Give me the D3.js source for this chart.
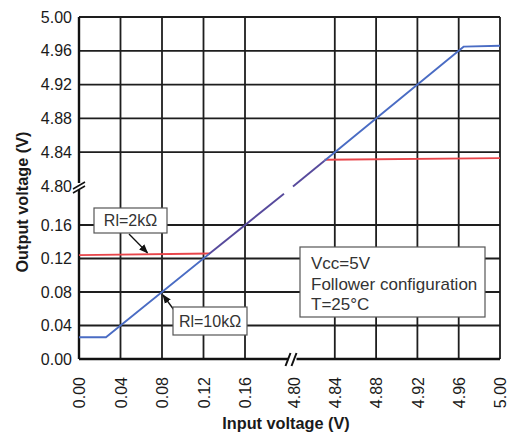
<!DOCTYPE html>
<html><head><meta charset="utf-8">
<script src="https://cdn.jsdelivr.net/npm/d3@7"></script>
<style>body{margin:0;background:#fff}svg{display:block;font-family:"Liberation Sans",Arial,sans-serif}</style>
</head><body><svg id="c" width="516" height="439"></svg>
<script>
// Broken axes: 0.00–0.16 and 4.80–5.00
const xDomain=[0,0.16,4.80,5.00];
const yDomain=[0,0.16,4.80,5.00];
const xTicks=[0,0.04,0.08,0.12,0.16,4.80,4.84,4.88,4.92,4.96,5.00];
const yTicks=[0,0.04,0.08,0.12,0.16,4.80,4.84,4.88,4.92,4.96,5.00];
const gridTicks=[0,0.04,0.08,0.12,0.16,4.84,4.88,4.92,4.96,5.00];
const breakValue=4.80;

// Rl=10kΩ (blue)
const blueLowX=[0,0.026,0.125];
const blueLowY=[0.026,0.026,0.125];
const blueHighX=[4.83,4.965,5.00];
const blueHighY=[4.83,4.965,4.966];
// Rl=2kΩ (red)
const redLowX=[0,0.126];
const redLowY=[0.124,0.126];
const redHighX=[4.83,5.00];
const redHighY=[4.831,4.833];
// both curves overlapping (follower region), drawn across the break
const sharedAX=[0.125,3.89];
const sharedAY=[0.125,3.89];
const sharedBX=[4.75,4.83];
const sharedBY=[4.75,4.83];

const svg=d3.select("#c");
const x=d3.scaleLinear().domain(xDomain).range([79,245,293.5,500]);
const y=d3.scaleLinear().domain(yDomain).range([359,225,186,17]);
const X0=x(0),X1=x(5),Y0=y(0),Y1=y(5);

const grid=svg.append("g").attr("stroke","#1e1e1e").attr("stroke-width",1.8);
gridTicks.forEach(t=>{
  grid.append("line").attr("x1",x(t)).attr("x2",x(t)).attr("y1",Y1).attr("y2",Y0);
  grid.append("line").attr("y1",y(t)).attr("y2",y(t)).attr("x1",X0).attr("x2",X1);
});
// axis lines
svg.append("line").attr("x1",X0).attr("x2",X0).attr("y1",Y1).attr("y2",Y0).attr("stroke","#111").attr("stroke-width",2.4);
svg.append("line").attr("x1",X0).attr("x2",X1).attr("y1",Y0).attr("y2",Y0).attr("stroke","#111").attr("stroke-width",2.4);

// axis labels via d3 axes
const fmt=d3.format(".2f");
const ya=svg.append("g").attr("transform",`translate(${X0},0)`)
  .call(d3.axisLeft(y).tickValues(yTicks).tickFormat(fmt).tickSize(0).tickPadding(7));
ya.select(".domain").remove();
ya.selectAll("text").attr("font-size",16).attr("fill","#1a1a1a").attr("font-family","Liberation Sans, Arial, sans-serif");
const xa=svg.append("g").attr("transform",`translate(0,${Y0})`)
  .call(d3.axisBottom(x).tickValues(xTicks).tickFormat(fmt).tickSize(0));
xa.select(".domain").remove();
xa.selectAll("text").attr("font-size",16).attr("fill","#1a1a1a").attr("font-family","Liberation Sans, Arial, sans-serif")
  .attr("transform","rotate(-90)").attr("x",-18).attr("y",0).attr("dy","0.35em").attr("text-anchor","end");

// axis breaks
const by=y(breakValue), bx=x(breakValue);
svg.append("rect").attr("x",X0-3).attr("y",by-3).attr("width",6).attr("height",7).attr("fill","#fff");
svg.append("path").attr("d",`M${X0-6},${by+3}L${X0+6},${by-4}M${X0-6},${by+7}L${X0+6},${by}`).attr("stroke","#111").attr("stroke-width",1.5).attr("fill","none");
svg.append("rect").attr("x",bx-5).attr("y",Y0-3).attr("width",8).attr("height",6).attr("fill","#fff");
svg.append("path").attr("d",`M${bx-8},${Y0+7}L${bx-3},${Y0-6}M${bx-2},${Y0+7}L${bx+3},${Y0-6}`).attr("stroke","#111").attr("stroke-width",2).attr("fill","none");

// curves
const line=d3.line().x(d=>x(d[0])).y(d=>y(d[1]));
const pts=(xs,ys)=>xs.map((v,i)=>[v,ys[i]]);
const draw=(xs,ys,c)=>svg.append("path").attr("d",line(pts(xs,ys))).attr("fill","none").attr("stroke",c).attr("stroke-width",1.9).attr("stroke-linejoin","round");
draw(redLowX,redLowY,"#e8454a");
draw(redHighX,redHighY,"#e8454a");
draw(blueLowX,blueLowY,"#4a6cc4");
draw(blueHighX,blueHighY,"#4a6cc4");
draw(sharedAX,sharedAY,"#574a9c");
draw(sharedBX,sharedBY,"#574a9c");

// arrow marker
svg.append("defs").append("marker").attr("id","ah").attr("viewBox","0 0 10 10").attr("refX",9).attr("refY",5)
  .attr("markerWidth",7).attr("markerHeight",7).attr("orient","auto-start-reverse")
  .append("path").attr("d","M0,1L10,5L0,9z").attr("fill","#111");

function label(bx0,by0,w,h,txt){
  svg.append("rect").attr("x",bx0).attr("y",by0).attr("width",w).attr("height",h).attr("fill","#fff").attr("stroke","#555").attr("stroke-width",1.2);
  svg.append("text").attr("x",bx0+w/2).attr("y",by0+h/2).attr("dy","0.36em").attr("text-anchor","middle").attr("font-size",16).attr("fill","#333").text(txt);
}
// Rl=2kΩ
svg.append("line").attr("x1",129).attr("y1",234).attr("x2",x(0.066)).attr("y2",y(0.1245)-2).attr("stroke","#111").attr("stroke-width",1.3).attr("marker-end","url(#ah)");
label(94,208,73,25,"Rl=2kΩ");
// Rl=10kΩ
svg.append("line").attr("x1",174).attr("y1",310).attr("x2",x(0.08)+1).attr("y2",y(0.08)+3).attr("stroke","#111").attr("stroke-width",1.3).attr("marker-end","url(#ah)");
label(173,307,74,28,"Rl=10kΩ");

// info box
svg.append("rect").attr("x",300).attr("y",247).attr("width",185).attr("height",70).attr("fill","#fff").attr("stroke","#555").attr("stroke-width",1.2);
["Vcc=5V","Follower configuration","T=25°C"].forEach((t,i)=>{
  svg.append("text").attr("x",311).attr("y",269+i*20.5).attr("font-size",17).attr("fill","#333").text(t);
});

// titles
svg.append("text").attr("transform",`translate(28,${(Y0+Y1)/2+14}) rotate(-90)`).attr("text-anchor","middle")
  .attr("font-size",16.3).attr("font-weight","bold").attr("fill","#1a1a1a").text("Output voltage (V)");
svg.append("text").attr("x",286).attr("y",429).attr("text-anchor","middle")
  .attr("font-size",16.3).attr("font-weight","bold").attr("fill","#1a1a1a").text("Input voltage (V)");
</script></body></html>
